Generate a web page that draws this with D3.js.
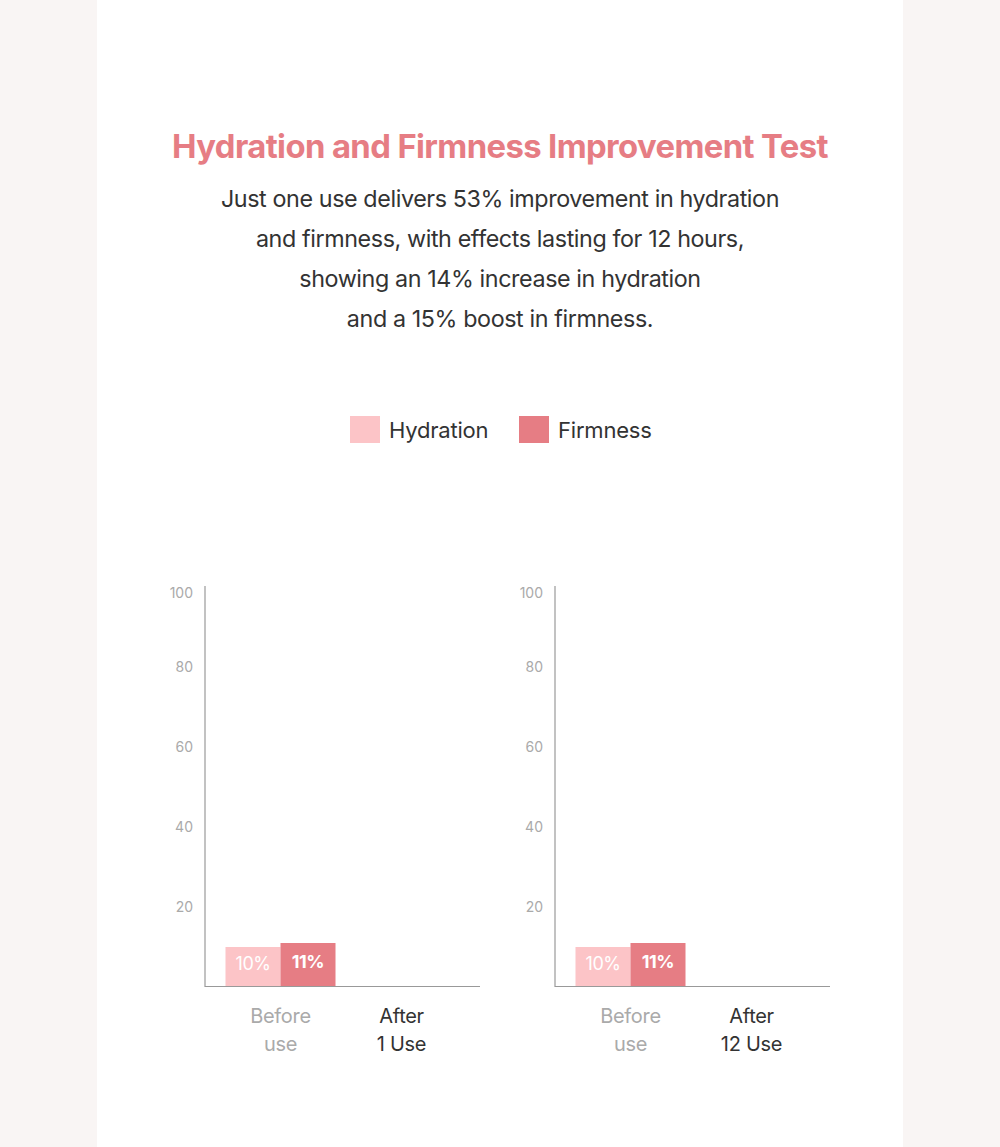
<!DOCTYPE html>
<html><head><meta charset="utf-8">
<script src="https://cdn.jsdelivr.net/npm/d3@7"></script>
<style>
html,body{margin:0;padding:0;background:#f9f5f4;}
svg{display:block;font-family:Inter, "Noto Sans", sans-serif;}
</style></head>
<body>
<svg id="c" width="1000" height="1147"></svg>
<script>
const title = "Hydration and Firmness Improvement Test";
const subtitleLines = [
  "Just one use delivers 53% improvement in hydration",
  "and firmness, with effects lasting for 12 hours,",
  "showing an 14% increase in hydration",
  "and a 15% boost in firmness."
];
const seriesNames = ["Hydration", "Firmness"];
const seriesColors = ["#fcc4c7", "#e67d84"];
const chart1Categories = ["Before use", "After 1 Use"];
const chart2Categories = ["Before use", "After 12 Use"];
const chart1Hydration = [10, null];
const chart1Firmness = [11, null];
const chart2Hydration = [10, null];
const chart2Firmness = [11, null];
const yTicks = [20, 40, 60, 80, 100];

const svg = d3.select("#c");
svg.append("rect").attr("x", 97).attr("y", 0).attr("width", 806).attr("height", 1147).attr("fill", "#ffffff");

svg.append("text").attr("x", 500).attr("y", 158).attr("text-anchor", "middle")
  .attr("font-size", 32.8).attr("font-weight", 700).attr("fill", "#e67d84")
  .attr("letter-spacing", -0.6).text(title);

svg.append("g").selectAll("text").data(subtitleLines).join("text")
  .attr("x", 500).attr("y", (d, i) => 207 + i * 40).attr("text-anchor", "middle")
  .attr("font-size", 23.3).attr("fill", "#333333").attr("letter-spacing", -0.4).text(d => d);

// legend
const legendX = [350, 519];
const lg = svg.append("g").selectAll("g").data(seriesNames).join("g")
  .attr("transform", (d, i) => `translate(${legendX[i]},416)`);
lg.append("rect").attr("width", 30).attr("height", 27).attr("fill", (d, i) => seriesColors[i]);
lg.append("text").attr("x", 39).attr("y", 22).attr("font-size", 22).attr("fill", "#333333")
  .attr("letter-spacing", -0.2).text(d => d);

function drawChart(ox, cats, hyd, firm) {
  const g = svg.append("g").attr("transform", `translate(${ox},0)`);
  const y = d3.scaleLinear().domain([0, 100]).range([987, 587]);
  const x = d3.scaleBand().domain(cats).range([15, 257]).padding(0);
  const sub = d3.scaleBand().domain(seriesNames).range([0, 110]);
  g.append("line").attr("x1", 0).attr("x2", 0).attr("y1", 586).attr("y2", 987)
    .attr("stroke", "#999").attr("stroke-width", 1.2);
  g.append("line").attr("x1", 0).attr("x2", 275).attr("y1", 986.5).attr("y2", 986.5)
    .attr("stroke", "#999").attr("stroke-width", 1.2);
  g.selectAll(".tk").data(yTicks).join("text")
    .attr("x", -12).attr("y", d => y(d) + (d === 100 ? 11 : 5)).attr("text-anchor", "end")
    .attr("font-size", 14).attr("fill", "#aaaaaa").text(d => d);
  const rows = cats.map((c, i) => ({ cat: c, vals: [hyd[i], firm[i]] }));
  rows.forEach((r, ri) => {
    const cx = x(r.cat) + x.bandwidth() / 2;
    r.vals.forEach((v, si) => {
      if (v == null) return;
      const bx = cx - 55 + sub(seriesNames[si]);
      g.append("rect").attr("x", bx).attr("y", y(v)).attr("width", sub.bandwidth())
        .attr("height", y(0) - y(v) - 1).attr("fill", seriesColors[si]);
      g.append("text").attr("x", bx + sub.bandwidth() / 2).attr("y", si === 0 ? 970 : 968)
        .attr("text-anchor", "middle").attr("font-size", 18)
        .attr("font-weight", si === 0 ? 400 : 700).attr("fill", "#ffffff")
        .attr("letter-spacing", -0.5).text(v + "%");
    });
    const parts = r.cat.startsWith("Before") ? ["Before", "use"] : ["After", r.cat.replace("After ", "")];
    g.append("g").selectAll("text").data(parts).join("text")
      .attr("x", cx).attr("y", (d, i) => 1023 + i * 28).attr("text-anchor", "middle")
      .attr("font-size", 20).attr("letter-spacing", -0.3)
      .attr("fill", ri === 0 ? "#aaaaaa" : "#333333").text(d => d);
  });
}
drawChart(205, chart1Categories, chart1Hydration, chart1Firmness);
drawChart(555, chart2Categories, chart2Hydration, chart2Firmness);
</script>
</body></html>
